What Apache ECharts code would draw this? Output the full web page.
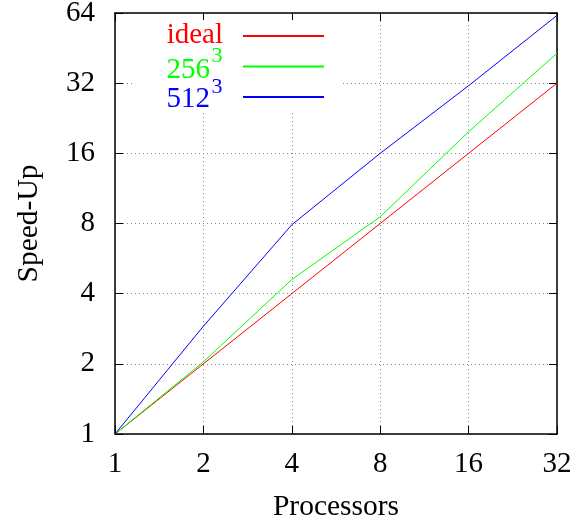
<!DOCTYPE html>
<html>
<head>
    <meta charset="utf-8">
    <title>Speed-Up</title>
    <script src="https://cdn.jsdelivr.net/npm/echarts@6/dist/echarts.min.js"></script>
    <style>
        body { margin: 0; background: #fff; }
    </style>
</head>
<body>
    <div id="main" style="width: 588px;height:524px;"></div>
    <script type="text/javascript">
        // processors (x) and measured speed-up (y)
        var procs = [1, 2, 4, 8, 16, 32];
        var ideal = [1, 2, 4, 8, 16, 32];
        var s256 = [1, 2.04, 4.6, 8.55, 19.8, 43];
        var s512 = [1, 2.9, 7.9, 16, 31.2, 62.5];
        var xTicks = [1, 2, 4, 8, 16, 32];
        var yTicks = [1, 2, 4, 8, 16, 32, 64];

        var font = 'Liberation Serif';
        var myChart = echarts.init(document.getElementById('main'));

        function pairs(ys) {
            return procs.map(function (p, i) { return [p, ys[i]]; });
        }

        var gridLine = { show: true, lineStyle: { color: '#888', type: [1, 3], width: 1 } };
        var tick = { show: true, inside: true, length: 8, lineStyle: { color: '#000', width: 1 } };
        var line = { show: true, lineStyle: { color: '#000', width: 1.5 } };

        function mkAxis(pos, vals, max, labels) {
            return {
                type: 'log', logBase: 2, min: 1, max: max, interval: 1,
                position: pos,
                axisLine: line,
                axisTick: tick,
                splitLine: labels ? gridLine : { show: false },
                axisLabel: labels ? {
                    show: true, fontFamily: font, fontSize: 29, color: '#000',
                    margin: pos === 'left' ? 20 : 16,
                    formatter: function (v) { return String(Math.round(v)); }
                } : { show: false }
            };
        }

        var xMain = mkAxis('bottom', xTicks, 32, true);
        xMain.name = 'Processors';
        xMain.nameLocation = 'middle';
        xMain.nameGap = 58;
        xMain.nameTextStyle = { fontFamily: font, fontSize: 29.5, color: '#000' };
        var yMain = mkAxis('left', yTicks, 64, true);
        yMain.name = 'Speed-Up';
        yMain.nameLocation = 'middle';
        yMain.nameGap = 71;
        yMain.nameTextStyle = { fontFamily: font, fontSize: 29.5, color: '#000' };

        // legend labels (gnuplot style: text right-aligned, superscript exponent)
        function label(txt, x, y, color, size) {
            return {
                type: 'text', z: 10, x: x, y: y,
                style: { text: txt, fill: color, font: size + 'px "' + font + '"', align: 'right', verticalAlign: 'middle' }
            };
        }
        function supLabel(txt, x, y, color, size) {
            return {
                type: 'text', z: 10, x: x, y: y,
                style: { text: txt, fill: color, font: size + 'px "' + font + '"', align: 'left', verticalAlign: 'middle' }
            };
        }

        var option = {
            animation: false,
            grid: { left: 115, right: 31, top: 13, bottom: 90, outerBoundsMode: 'none' },
            xAxis: [xMain, mkAxis('top', xTicks, 32, false)],
            yAxis: [yMain, mkAxis('right', yTicks, 64, false)],
            legend: {
                orient: 'vertical',
                left: 132, top: 20,
                align: 'left',
                padding: [15, 11, 13, 111],
                backgroundColor: '#fff',
                itemGap: 28.5,
                itemWidth: 81,
                itemHeight: 2,
                icon: 'rect',
                textStyle: { fontSize: 2, lineHeight: 2 },
                formatter: function () { return ''; },
                data: ['ideal', '256^3', '512^3']
            },
            graphic: [
                label('ideal', 223, 35.7, '#ff0000', 29),
                label('256', 210, 70, '#00ff00', 29),
                supLabel('3', 211.5, 55.8, '#00ff00', 22),
                label('512', 210, 99.3, '#0000ff', 29),
                supLabel('3', 211.5, 86.8, '#0000ff', 22)
            ],
            series: [
                { name: 'ideal', type: 'line', data: pairs(ideal), showSymbol: false, color: '#ff0000', lineStyle: { width: 1 } },
                { name: '256^3', type: 'line', data: pairs(s256), showSymbol: false, color: '#00ff00', lineStyle: { width: 1 } },
                { name: '512^3', type: 'line', data: pairs(s512), showSymbol: false, color: '#0000ff', lineStyle: { width: 1 } }
            ]
        };

        myChart.setOption(option);
    </script>
</body>
</html>
